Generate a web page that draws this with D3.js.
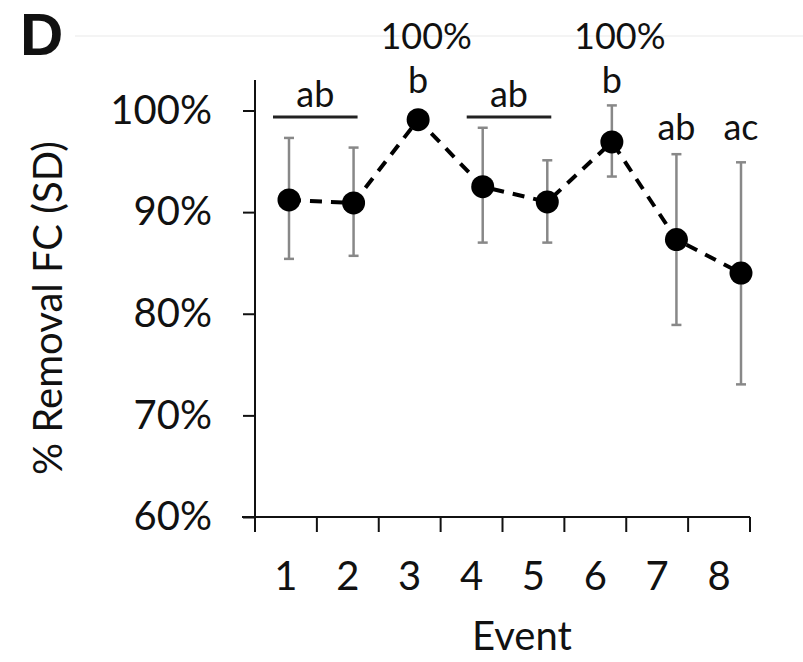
<!DOCTYPE html>
<html>
<head>
  <meta charset="utf-8">
  <title>Removal FC</title>
  <script src="https://d3js.org/d3.v7.min.js"></script>
  <style>
    body { margin: 0; background: #fff; }
    text { font-family: Lato, "Open Sans", sans-serif; fill: #111; }
  </style>
</head>
<body>
  <div id="chart"></div>
  <script>
    // Daten
    var events = ['1', '2', '3', '4', '5', '6', '7', '8'];
    var means  = [91.2, 90.9, 99.1, 92.5, 91.0, 96.9, 87.3, 84.0];
    var upper  = [97.3, 96.35, 99.5, 98.3, 95.1, 100.5, 95.7, 94.9];
    var lower  = [85.4, 85.7, 98.7, 87.0, 87.0, 93.5, 78.9, 73.05];
    var yTicks = [60, 70, 80, 90, 100];

    // Buchstaben der Signifikanzgruppen
    var groupNotes = [
      { text: 'ab', from: '1', to: '2' },
      { text: 'ab', from: '4', to: '5' }
    ];
    var singleNotes = [
      { text: 'b', event: '3', top: '100%' },
      { text: 'b', event: '6', top: '100%' },
      { text: 'ab', event: '7' },
      { text: 'ac', event: '8' }
    ];

    var data = events.map(function (e, i) {
      return { event: e, mean: means[i], hi: upper[i], lo: lower[i] };
    });

    var width = 803, height = 662;

    var svg = d3.select('#chart').append('svg')
      .attr('width', width)
      .attr('height', height);

    // Achsenskala (Kategorien) und Position der Punkte
    var xBand = d3.scaleBand().domain(events).range([255, 750]);
    var xPos = d3.scalePoint().domain(events).range([289, 741]);
    var y = d3.scaleLinear().domain([60, 103]).range([517, 80]);

    // dünne Linie oben
    svg.append('line')
      .attr('x1', 75).attr('x2', 803)
      .attr('y1', 36).attr('y2', 36)
      .attr('stroke', '#f0f0f0').attr('stroke-width', 1.5);

    // Panel-Buchstabe
    svg.append('text')
      .attr('x', 20).attr('y', 55)
      .style('font-family', 'Liberation Sans, Arial, sans-serif')
      .style('font-weight', 'bold')
      .style('font-size', '60px')
      .text('D');

    // y-Achse
    var yAxis = svg.append('g')
      .attr('transform', 'translate(255,0)')
      .call(d3.axisLeft(y).tickValues(yTicks).tickSize(12).tickPadding(31)
        .tickFormat(function (d) { return d + '%'; }));
    yAxis.select('.domain').attr('d', 'M0,' + y(103) + 'V' + y(60));

    // x-Achse mit Strichen an den Kategoriegrenzen
    var xAxis = svg.append('g')
      .attr('transform', 'translate(0,517)')
      .call(d3.axisBottom(xBand).tickSize(0).tickPadding(45));
    xAxis.select('.domain').attr('d', 'M242,0H750');
    xAxis.selectAll('.bound')
      .data(events.concat(['end']))
      .enter().append('line')
      .attr('x1', function (d) { return d === 'end' ? xBand.range()[1] : xBand(d); })
      .attr('x2', function (d) { return d === 'end' ? xBand.range()[1] : xBand(d); })
      .attr('y1', 0).attr('y2', 15)
      .attr('stroke', '#111');

    svg.selectAll('.domain, .tick line').attr('stroke', '#111').attr('stroke-width', 2);
    xAxis.selectAll('line').attr('stroke-width', 2);
    svg.selectAll('.tick text').style('font-size', '40px').attr('fill', '#111');

    // Achsentitel
    svg.append('text')
      .attr('x', 522).attr('y', 650)
      .attr('text-anchor', 'middle')
      .style('font-size', '40px')
      .text('Event');

    svg.append('text')
      .attr('transform', 'translate(62,308) rotate(-90)')
      .attr('text-anchor', 'middle')
      .style('font-size', '40px')
      .text('% Removal FC (SD)');

    // Fehlerbalken
    var err = svg.append('g').attr('stroke', '#888').attr('stroke-width', 2.5);
    err.selectAll('.bar').data(data).enter().append('line')
      .attr('x1', function (d) { return xPos(d.event); })
      .attr('x2', function (d) { return xPos(d.event); })
      .attr('y1', function (d) { return y(d.hi); })
      .attr('y2', function (d) { return y(d.lo); });
    err.selectAll('.capHi').data(data).enter().append('line')
      .attr('x1', function (d) { return xPos(d.event) - 5; })
      .attr('x2', function (d) { return xPos(d.event) + 5; })
      .attr('y1', function (d) { return y(d.hi); })
      .attr('y2', function (d) { return y(d.hi); });
    err.selectAll('.capLo').data(data).enter().append('line')
      .attr('x1', function (d) { return xPos(d.event) - 5; })
      .attr('x2', function (d) { return xPos(d.event) + 5; })
      .attr('y1', function (d) { return y(d.lo); })
      .attr('y2', function (d) { return y(d.lo); });

    // gestrichelte Verbindungslinie
    var line = d3.line()
      .x(function (d) { return xPos(d.event); })
      .y(function (d) { return y(d.mean); });
    svg.append('path')
      .datum(data)
      .attr('d', line)
      .attr('fill', 'none')
      .attr('stroke', '#000')
      .attr('stroke-width', 4)
      .attr('stroke-dasharray', '12,9');

    // Mittelwerte
    svg.selectAll('.dot').data(data).enter().append('circle')
      .attr('cx', function (d) { return xPos(d.event); })
      .attr('cy', function (d) { return y(d.mean); })
      .attr('r', 11.5)
      .attr('fill', '#000');

    // Gruppen-Beschriftung mit Linie
    groupNotes.forEach(function (g) {
      var x1 = xPos(g.from) - 16, x2 = xPos(g.to) + 4;
      svg.append('line')
        .attr('x1', x1).attr('x2', x2)
        .attr('y1', 117).attr('y2', 117)
        .attr('stroke', '#222').attr('stroke-width', 3);
      svg.append('text')
        .attr('x', (x1 + x2) / 2).attr('y', 107)
        .attr('text-anchor', 'middle')
        .style('font-size', '36px')
        .text(g.text);
    });

    // Einzelbuchstaben, bei 3 und 6 mit "100%" darüber
    singleNotes.forEach(function (n) {
      var cx = xPos(n.event);
      svg.append('text')
        .attr('x', cx).attr('y', n.top ? 93 : 140)
        .attr('text-anchor', 'middle')
        .style('font-size', '36px')
        .text(n.text);
      if (n.top) {
        svg.append('text')
          .attr('x', cx + 8).attr('y', 49)
          .attr('text-anchor', 'middle')
          .style('font-size', '36px')
          .text(n.top);
      }
    });
  </script>
</body>
</html>
